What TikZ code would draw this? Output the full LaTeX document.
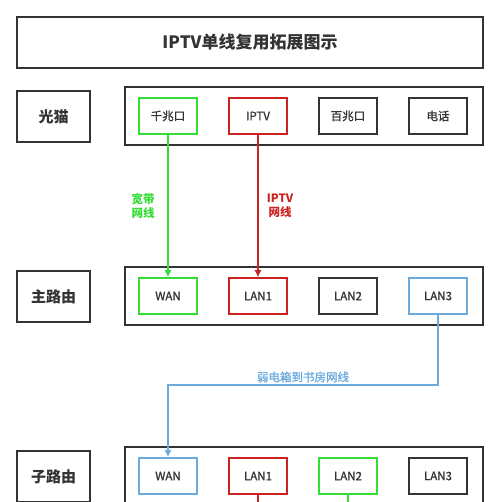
\documentclass[tikz,border=0pt]{standalone}
\usepackage{fontspec}
\setmainfont{Noto Sans CJK SC}
\newfontfamily\semib[FakeBold=1.2]{Noto Sans CJK SC}
\usetikzlibrary{arrows.meta}
\definecolor{dk}{HTML}{333333}
\definecolor{gr}{HTML}{33DD33}
\definecolor{rd}{HTML}{CC2222}
\definecolor{bl}{HTML}{6AAADD}
\tikzset{
  frame/.style={draw=dk,line width=1.8pt,rectangle,inner sep=0pt},
  rowlab/.style={frame,minimum width=73pt,minimum height=51pt,font=\bfseries\fontsize{15}{17}\selectfont,text=dk},
  outer/.style={frame,minimum width=358pt,minimum height=58pt},
  port/.style={rectangle,inner sep=0pt,line width=1.6pt,minimum width=58pt,minimum height=36pt,font=\semib\fontsize{11.5}{13}\selectfont,text=dk},
  wire/.style={line width=1.1pt,-{Latex[length=7pt,width=7pt]}},
  plain/.style={line width=1.1pt},
  elab/.style={font=\bfseries\fontsize{11.5}{13.5}\selectfont,align=center}
}
\begin{document}
\begin{tikzpicture}[x=1pt,y=-1pt]
\useasboundingbox (0,0) rectangle (500,502);
\clip (0,0) rectangle (500,502);
% title
\node[frame,minimum width=466pt,minimum height=51pt,font=\bfseries\fontsize{17}{20}\selectfont,text=dk] (title) at (250,42.5) {IPTV单线复用拓展图示};
% row 1
\node[rowlab] (r1) at (53.5,116.5) {光猫};
\node[outer] (o1) at (304,116) {};
\node[port,draw=gr] (p11) at (168,116) {千兆口};
\node[port,draw=rd] (p12) at (258,116) {IPTV};
\node[port,draw=dk] (p13) at (348,116) {百兆口};
\node[port,draw=dk] (p14) at (438,116) {电话};
% row 2
\node[rowlab] (r2) at (53.5,296.5) {主路由};
\node[outer] (o2) at (304,296) {};
\node[port,draw=gr] (p21) at (168,296) {WAN};
\node[port,draw=rd] (p22) at (258,296) {LAN1};
\node[port,draw=dk] (p23) at (348,296) {LAN2};
\node[port,draw=bl] (p24) at (438,296) {LAN3};
% row 3
\node[rowlab] (r3) at (53.5,476.5) {子路由};
\node[outer] (o3) at (304,476) {};
\node[port,draw=bl] (p31) at (168,476) {WAN};
\node[port,draw=rd] (p32) at (258,476) {LAN1};
\node[port,draw=gr] (p33) at (348,476) {LAN2};
\node[port,draw=dk] (p34) at (438,476) {LAN3};
% connectors
\draw[wire,gr] (p11.south) -- (p21.north);
\draw[wire,rd] (p12.south) -- (p22.north);
\node[elab,text=gr] (l1) at (143,206) {宽带\\网线};
\node[elab,text=rd] (l2) at (280,206) {IPTV\\网线};
\coordinate (c1) at (168,385);
\draw[wire,bl] (p24.south) |- (c1) -- (p31.north);
\node[font=\semib\fontsize{11.5}{13}\selectfont,text=bl] (l3) at (303,377) {弱电箱到书房网线};
\coordinate (e1) at (258,515);
\coordinate (e2) at (348,515);
\draw[plain,rd] (p32.south) -- (e1);
\draw[plain,gr] (p33.south) -- (e2);
\end{tikzpicture}
\end{document}
